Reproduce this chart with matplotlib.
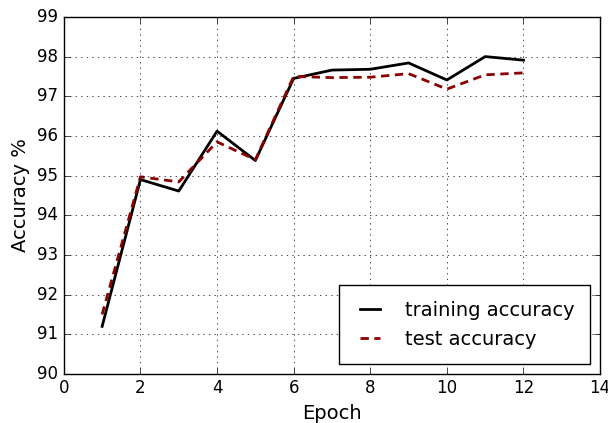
import matplotlib
matplotlib.use("Agg")
import matplotlib.pyplot as plt

plt.style.use("classic")

epochs = [1, 2, 3, 4, 5, 6, 7, 8, 9, 10, 11, 12]
train_acc = [91.2, 94.9, 94.61, 96.12, 95.38, 97.45, 97.66, 97.68, 97.84, 97.41, 98.0, 97.91]
test_acc = [91.5, 94.97, 94.84, 95.85, 95.4, 97.5, 97.47, 97.48, 97.57, 97.18, 97.54, 97.59]

fig = plt.figure(figsize=(6.08, 4.23), dpi=100)
fig.patch.set_facecolor("white")
ax = fig.add_axes([0.105, 0.116, 0.882, 0.844])

ax.plot(epochs, train_acc, "k-", lw=2, label="training accuracy")
ax.plot(epochs, test_acc, "--", color="darkred", lw=2, dashes=(6, 4),
        label="test accuracy")

ax.set_xlim(0, 14)
ax.set_ylim(90, 99)
ax.set_xlabel("Epoch", fontsize=14)
ax.set_ylabel("Accuracy %", fontsize=14)
ax.tick_params(labelsize=12)
ax.grid(True)
ax.legend(loc="lower right", fontsize=14, handlelength=1.6, handletextpad=1.0,
          borderpad=0.8)

fig.savefig("out.png", dpi=100, facecolor="white")
